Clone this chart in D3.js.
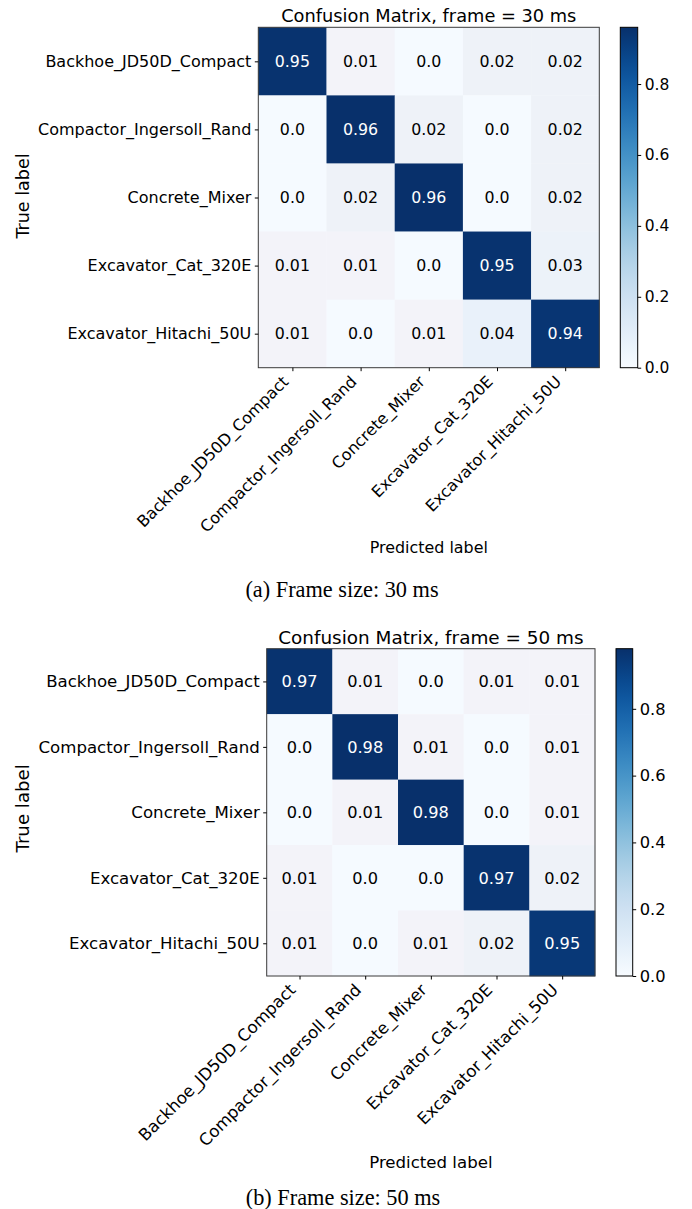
<!DOCTYPE html>
<html>
<head>
<meta charset="utf-8">
<script src="https://cdn.jsdelivr.net/npm/d3@7/dist/d3.min.js"></script>
<style>
  html, body { margin: 0; padding: 0; background: #fff; }
  svg { display: block; }
  text { font-family: "DejaVu Sans", sans-serif; fill: #000; }
</style>
</head>
<body>
<svg id="fig" width="692" height="1209"></svg>
<script>
// ---------------- DATA ----------------
const classes = [
  "Backhoe_JD50D_Compact",
  "Compactor_Ingersoll_Rand",
  "Concrete_Mixer",
  "Excavator_Cat_320E",
  "Excavator_Hitachi_50U"
];
// rows = true label, cols = predicted label
const values30 = [
  [0.95, 0.01, 0.0, 0.02, 0.02],
  [0.0, 0.96, 0.02, 0.0, 0.02],
  [0.0, 0.02, 0.96, 0.0, 0.02],
  [0.01, 0.01, 0.0, 0.95, 0.03],
  [0.01, 0.0, 0.01, 0.04, 0.94]
];
const values50 = [
  [0.97, 0.01, 0.0, 0.01, 0.01],
  [0.0, 0.98, 0.01, 0.0, 0.01],
  [0.0, 0.01, 0.98, 0.0, 0.01],
  [0.01, 0.0, 0.0, 0.97, 0.02],
  [0.01, 0.0, 0.01, 0.02, 0.95]
];
const colorbarTicks = [0.0, 0.2, 0.4, 0.6, 0.8];
const titles = ["Confusion Matrix, frame = 30 ms", "Confusion Matrix, frame = 50 ms"];
const captions = ["(a) Frame size: 30 ms", "(b) Frame size: 50 ms"];
const xAxisTitle = "Predicted label";
const yAxisTitle = "True label";

// ---------------- DRAW ----------------
const svg = d3.select("#fig");
svg.append("rect").attr("width", 692).attr("height", 1209).attr("fill", "#fff");

const fmt = v => Number.isInteger(v) ? v.toFixed(1) : String(v);

// light-tint scale for the small off-diagonal values (as they appear in the figure)
const tint = d3.scaleLinear()
  .domain([0, 0.01, 0.02, 0.04])
  .range(["#f5faff", "#f3f3f9", "#eef2f8", "#e9f1fa"])
  .clamp(true);

function drawCM(values, idx, L) {
  const g = svg.append("g");
  const vmax = d3.max(values.flat());
  const x = d3.scaleBand().domain(d3.range(classes.length)).range([L.x0, L.x1]);
  const y = d3.scaleBand().domain(d3.range(classes.length)).range([L.y0, L.y1]);
  const blues = d3.scaleSequential(d3.interpolateBlues).domain([0, vmax]);
  const color = v => v < 0.05 ? tint(v) : blues(v);

  const cells = [];
  values.forEach((row, i) => row.forEach((v, j) => cells.push({ i, j, v })));

  g.selectAll("rect.cell").data(cells).join("rect")
    .attr("class", "cell")
    .attr("x", d => x(d.j)).attr("y", d => y(d.i))
    .attr("width", x.bandwidth() + 0.3).attr("height", y.bandwidth() + 0.3)
    .attr("fill", d => color(d.v));

  g.selectAll("text.val").data(cells).join("text")
    .attr("class", "val")
    .attr("x", d => x(d.j) + x.bandwidth() / 2)
    .attr("y", d => y(d.i) + y.bandwidth() / 2)
    .attr("text-anchor", "middle")
    .attr("dy", "0.36em")
    .style("font-size", L.fsCell + "px")
    .style("fill", d => d.v > vmax / 2 ? "#fff" : "#000")
    .text(d => fmt(d.v));

  // frame
  g.append("rect")
    .attr("x", L.x0).attr("y", L.y0)
    .attr("width", L.x1 - L.x0).attr("height", L.y1 - L.y0)
    .attr("fill", "none").attr("stroke", "#3a3a3a").attr("stroke-width", 1);

  // left axis
  const yAxis = d3.axisLeft(d3.scalePoint().domain(classes).range([L.y0 + y.bandwidth() / 2, L.y1 - y.bandwidth() / 2]))
    .tickSize(3.5).tickPadding(3.5);
  const ya = g.append("g").attr("transform", `translate(${L.x0},0)`).call(yAxis);
  ya.select(".domain").remove();
  ya.selectAll("line").attr("stroke", "#000");
  ya.selectAll("text").style("font-size", L.fsTick + "px").style("font-family", "DejaVu Sans").attr("fill", "#000");

  // bottom axis
  const xs = d3.scalePoint().domain(classes).range([L.x0 + x.bandwidth() / 2, L.x1 - x.bandwidth() / 2]);
  const xAxis = d3.axisBottom(xs).tickSize(3.5).tickFormat("");
  const xa = g.append("g").attr("transform", `translate(0,${L.y1})`).call(xAxis);
  xa.select(".domain").remove();
  xa.selectAll("line").attr("stroke", "#000");
  g.selectAll("text.xtick").data(classes).join("text")
    .attr("class", "xtick")
    .attr("text-anchor", "end")
    .style("font-size", L.fsTick + "px")
    .attr("transform", d => `translate(${xs(d) - 3},${L.y1 + 15}) rotate(-45)`)
    .text(d => d);

  // titles
  g.append("text").attr("x", (L.x0 + L.x1) / 2).attr("y", L.titleY)
    .attr("text-anchor", "middle").style("font-size", L.fsTitle + "px").text(titles[idx]);
  g.append("text").attr("x", (L.x0 + L.x1) / 2).attr("y", L.xLabelY)
    .attr("text-anchor", "middle").style("font-size", L.fsXLabel + "px").text(xAxisTitle);
  g.append("text")
    .attr("transform", `translate(${L.yLabelX},${(L.y0 + L.y1) / 2 + L.yLabelShift}) rotate(-90)`)
    .attr("text-anchor", "middle").attr("dy", "0.35em")
    .style("font-size", L.fsYLabel + "px").text(yAxisTitle);
  g.append("text").attr("x", L.capX).attr("y", L.captionY)
    .attr("text-anchor", "middle")
    .style("font-family", "'Liberation Serif', 'Times New Roman', serif")
    .style("font-size", L.fsCap + "px").text(captions[idx]);

  // colorbar
  const gid = "grad" + idx;
  const grad = svg.append("defs").append("linearGradient").attr("id", gid)
    .attr("x1", 0).attr("y1", 1).attr("x2", 0).attr("y2", 0);
  d3.range(0, 1.0001, 0.05).forEach(t => {
    grad.append("stop").attr("offset", t).attr("stop-color", d3.interpolateBlues(t));
  });
  g.append("rect")
    .attr("x", L.cbx0).attr("y", L.y0)
    .attr("width", L.cbx1 - L.cbx0).attr("height", L.y1 - L.y0)
    .attr("fill", `url(#${gid})`).attr("stroke", "#000").attr("stroke-width", 1);
  const cbScale = d3.scaleLinear().domain([0, vmax]).range([L.y1, L.y0]);
  const cbAxis = d3.axisRight(cbScale).tickValues(colorbarTicks).tickFormat(d3.format(".1f"))
    .tickSize(3.5).tickPadding(3.5);
  const ca = g.append("g").attr("transform", `translate(${L.cbx1},0)`).call(cbAxis);
  ca.select(".domain").remove();
  ca.selectAll("line").attr("stroke", "#000");
  ca.selectAll("text").style("font-size", L.fsCb + "px").style("font-family", "DejaVu Sans").attr("fill", "#000");
}

drawCM(values30, 0, {
  x0: 258.3, x1: 599.3, y0: 27.3, y1: 367.7, cbx0: 620.3, cbx1: 637.7,
  titleY: 22, fsTitle: 17.8, fsTick: 16, fsCell: 15.8, fsCb: 15.5,
  fsYLabel: 17.5, yLabelX: 23, yLabelShift: -1.5, xLabelY: 553, fsXLabel: 15.9,
  capX: 342, captionY: 597, fsCap: 22.3
});
drawCM(values50, 1, {
  x0: 266.7, x1: 595, y0: 648.7, y1: 976, cbx0: 616, cbx1: 632.7,
  titleY: 643.5, fsTitle: 18.4, fsTick: 16.6, fsCell: 16.2, fsCb: 16.3,
  fsYLabel: 18.2, yLabelX: 23, yLabelShift: -4, xLabelY: 1168, fsXLabel: 16.6,
  capX: 343, captionY: 1205, fsCap: 22.3
});
</script>
</body>
</html>
